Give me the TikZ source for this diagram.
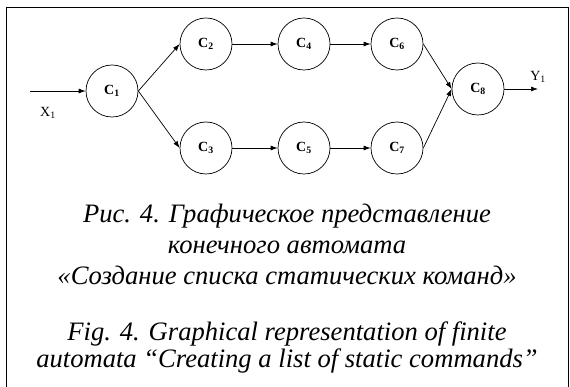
\documentclass[tikz,border=0pt]{standalone}
\usepackage{fontspec}
\setmainfont{Liberation Serif}
\usetikzlibrary{arrows.meta}
\begin{document}
\begin{tikzpicture}[x=1pt,y=-1pt,
  state/.style={draw,circle,minimum size=52pt,inner sep=0pt,line width=0.7pt,font=\fontsize{14}{16}\selectfont\bfseries},
  conn/.style={line width=0.7pt,-{Latex[length=7pt,width=5pt]}},
  lbl/.style={font=\fontsize{14}{16}\selectfont,inner sep=0pt},
  captext/.style={font=\fontsize{26.6}{30}\selectfont\itshape,inner sep=0pt,anchor=base}]
\useasboundingbox (0,0) rectangle (570,387);
\draw[line width=0.7pt] (6,387) -- (6,7) -- (568,7) -- (568,387);
\node[state] (c1) at (112,91) {C\textsubscript{1}};
\node[state] (c2) at (206,44) {C\textsubscript{2}};
\node[state] (c3) at (206,148) {C\textsubscript{3}};
\node[state] (c4) at (304,44) {C\textsubscript{4}};
\node[state] (c5) at (304,148) {C\textsubscript{5}};
\node[state] (c6) at (397,44) {C\textsubscript{6}};
\node[state] (c7) at (397,148) {C\textsubscript{7}};
\node[state] (c8) at (478,89) {C\textsubscript{8}};
\coordinate (in) at (30,91);
\coordinate (out) at (538,89);
\draw[conn] (in) -- (c1.west);
\draw[conn] (c1.east) -- (c2.west);
\draw[conn] (c1.east) -- (c3.west);
\draw[conn] (c2) -- (c4);
\draw[conn] (c3) -- (c5);
\draw[conn] (c4) -- (c6);
\draw[conn] (c5) -- (c7);
\draw[conn] (c6.east) -- (c8.west);
\draw[conn] (c7.east) -- (c8.west);
\draw[conn] (c8.east) -- (out);
\node[lbl] (x1) at (48,113) {X\textsubscript{1}};
\node[lbl] (y1) at (538,77) {Y\textsubscript{1}};
\node[captext] (t1) at (287,223) {Рис. 4. Графическое представление};
\node[captext] (t2) at (287,254) {конечного автомата};
\node[captext] (t3) at (287,285) {«Создание списка статических команд»};
\node[captext] (t4) at (287,340) {Fig. 4. Graphical representation of finite};
\node[captext] (t5) at (287,367) {automata ``Creating a list of static commands''};
\end{tikzpicture}
\end{document}
